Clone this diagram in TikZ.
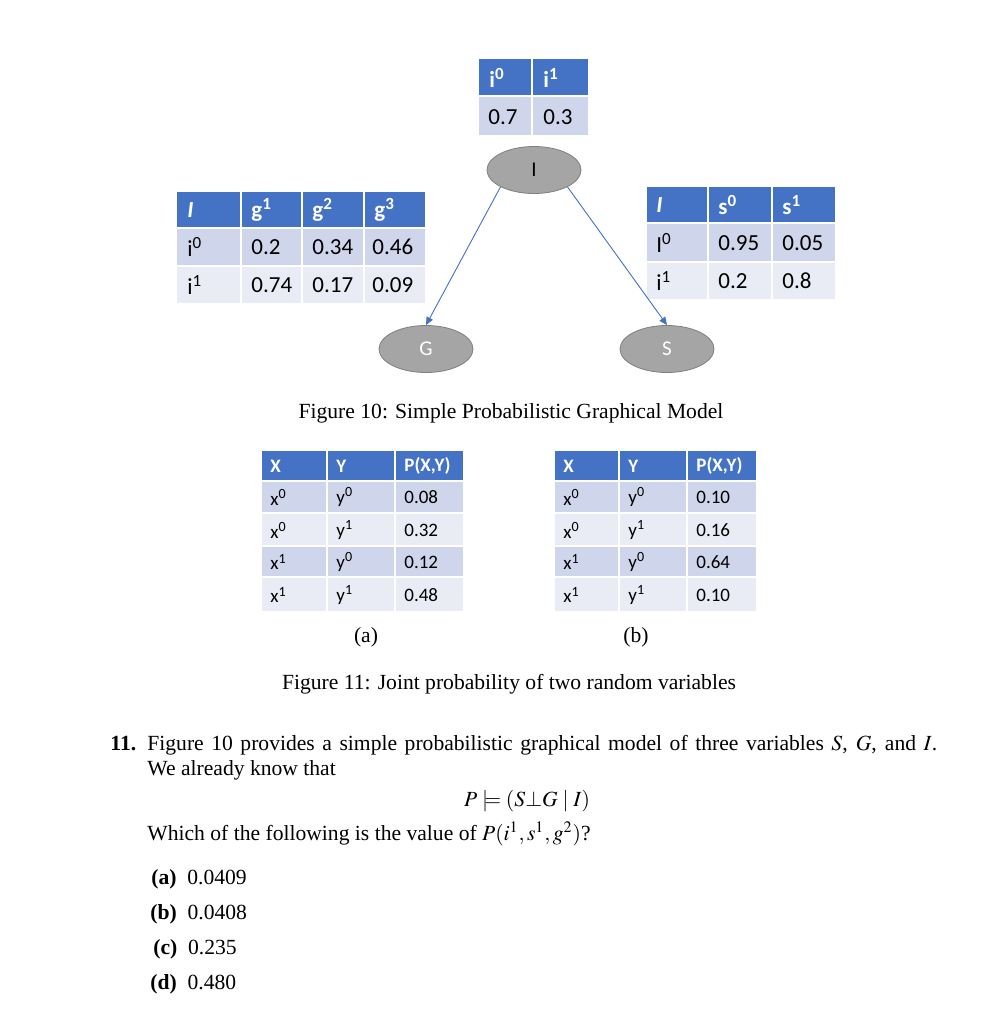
\documentclass[tikz,border=0pt]{standalone}
\usepackage{mathptmx}
\usepackage{fontspec}
\setmainfont{Liberation Serif}
\newfontfamily\tabfont{Carlito}
\usetikzlibrary{shapes.geometric,arrows.meta}
\definecolor{hdrblue}{HTML}{4472C4}
\definecolor{rowdark}{HTML}{CFD5EA}
\definecolor{rowlight}{HTML}{E9EBF5}
\definecolor{nodegray}{HTML}{A5A5A5}
\definecolor{nodeedge}{HTML}{7F7F7F}
\tikzset{
  bign/.style={font=\tabfont\fontsize{11.5}{13}\selectfont, anchor=west, inner sep=0pt},
  bighd/.style={bign, text=white, font=\tabfont\bfseries\fontsize{11.5}{13}\selectfont},
  smalln/.style={font=\tabfont\fontsize{9.5}{11}\selectfont, anchor=west, inner sep=0pt},
  smallhd/.style={smalln, text=white, font=\tabfont\bfseries\fontsize{9.5}{11}\selectfont},
  bnode/.style={ellipse, fill=nodegray, draw=nodeedge, line width=0.4pt,
    minimum width=47pt, minimum height=23.5pt, font=\tabfont\fontsize{10.5}{12}\selectfont},
  edge/.style={hdrblue, line width=0.45pt, -{Triangle[length=4pt,width=3.5pt]}},
  body/.style={font=\fontsize{10.8}{13}\selectfont, inner sep=0pt},
  txt/.style={body, anchor=base west},
  ctr/.style={body, anchor=base},
}
\begin{document}
\begin{tikzpicture}[x=0.5pt, y=-0.5pt]
  \useasboundingbox[fill=white] (0,0) rectangle (988,1024);
  % 表 I
  \foreach \xa/\xb in {479/531, 533/588} {
    \fill[hdrblue] (\xa,59) rectangle (\xb,95);
    \fill[rowdark] (\xa,97) rectangle (\xb,135);
  }
  \node[bighd] (ih0) at (489,78) {i\textsuperscript{0}};
  \node[bighd] (ih1) at (543,78) {i\textsuperscript{1}};
  \node[bign] (iv0) at (488,117) {0.7};
  \node[bign] (iv1) at (543,117) {0.3};
  % 表 G
  \foreach \xa/\xb in {177/240, 242/301, 303/363, 365/425} {
    \fill[hdrblue] (\xa,192) rectangle (\xb,227);
    \fill[rowdark] (\xa,229) rectangle (\xb,265);
    \fill[rowlight] (\xa,267) rectangle (\xb,303);
  }
  \node[bighd] (gh0) at (187,210) {\textit{I}};
  \node[bighd] (gh1) at (251,210) {g\textsuperscript{1}};
  \node[bighd] (gh2) at (312,210) {g\textsuperscript{2}};
  \node[bighd] (gh3) at (374,210) {g\textsuperscript{3}};
  \node[bign] (ga0) at (187,247) {i\textsuperscript{0}};
  \node[bign] (ga1) at (251,247) {0.2};
  \node[bign] (ga2) at (312,247) {0.34};
  \node[bign] (ga3) at (372,247) {0.46};
  \node[bign] (gb0) at (187,285) {i\textsuperscript{1}};
  \node[bign] (gb1) at (251,285) {0.74};
  \node[bign] (gb2) at (312,285) {0.17};
  \node[bign] (gb3) at (372,285) {0.09};
  % 表 S
  \foreach \xa/\xb in {647/707, 709/771, 773/835} {
    \fill[hdrblue] (\xa,187) rectangle (\xb,222);
    \fill[rowdark] (\xa,224) rectangle (\xb,261);
    \fill[rowlight] (\xa,263) rectangle (\xb,299);
  }
  \node[bighd] (sh0) at (656,205) {\textit{I}};
  \node[bighd] (sh1) at (718,205) {s\textsuperscript{0}};
  \node[bighd] (sh2) at (782,205) {s\textsuperscript{1}};
  \node[bign] (sa0) at (656,243) {I\textsuperscript{0}};
  \node[bign] (sa1) at (718,243) {0.95};
  \node[bign] (sa2) at (782,243) {0.05};
  \node[bign] (sb0) at (656,281) {i\textsuperscript{1}};
  \node[bign] (sb1) at (718,281) {0.2};
  \node[bign] (sb2) at (782,281) {0.8};
  % 节点与边
  \node[bnode] (I) at (534,170) {I};
  \node[bnode, text=white] (G) at (426,349) {G};
  \node[bnode, text=white] (S) at (667,349) {S};
  \draw[edge] (I.south west) -- (G.north);
  \draw[edge] (I.south east) -- (S.north);
  \node[ctr] (cap10) at (511,418) {Figure 10: Simple Probabilistic Graphical Model};
  % 表 (a), (b)
  \foreach \xa/\xb in {262/326, 328/394, 396/463, 555/618, 620/686, 688/756} {
    \fill[hdrblue] (\xa,451) rectangle (\xb,480);
    \fill[rowdark] (\xa,482) rectangle (\xb,512);
    \fill[rowlight] (\xa,514) rectangle (\xb,545);
    \fill[rowdark] (\xa,547) rectangle (\xb,576);
    \fill[rowlight] (\xa,578) rectangle (\xb,611);
  }
  \node[smallhd] (ah0) at (270,466) {X};
  \node[smallhd] (ah1) at (336,466) {Y};
  \node[smallhd] (ah2) at (404,466) {P(X,Y)};
  \node[smalln] (a10) at (270,497) {x\textsuperscript{0}};
  \node[smalln] (a11) at (336,497) {y\textsuperscript{0}};
  \node[smalln] (a12) at (404,497) {0.08};
  \node[smalln] (a20) at (270,530) {x\textsuperscript{0}};
  \node[smalln] (a21) at (336,530) {y\textsuperscript{1}};
  \node[smalln] (a22) at (404,530) {0.32};
  \node[smalln] (a30) at (270,562) {x\textsuperscript{1}};
  \node[smalln] (a31) at (336,562) {y\textsuperscript{0}};
  \node[smalln] (a32) at (404,562) {0.12};
  \node[smalln] (a40) at (270,595) {x\textsuperscript{1}};
  \node[smalln] (a41) at (336,595) {y\textsuperscript{1}};
  \node[smalln] (a42) at (404,595) {0.48};
  \node[smallhd] (bh0) at (563,466) {X};
  \node[smallhd] (bh1) at (628,466) {Y};
  \node[smallhd] (bh2) at (696,466) {P(X,Y)};
  \node[smalln] (b10) at (563,497) {x\textsuperscript{0}};
  \node[smalln] (b11) at (628,497) {y\textsuperscript{0}};
  \node[smalln] (b12) at (696,497) {0.10};
  \node[smalln] (b20) at (563,530) {x\textsuperscript{0}};
  \node[smalln] (b21) at (628,530) {y\textsuperscript{1}};
  \node[smalln] (b22) at (696,530) {0.16};
  \node[smalln] (b30) at (563,562) {x\textsuperscript{1}};
  \node[smalln] (b31) at (628,562) {y\textsuperscript{0}};
  \node[smalln] (b32) at (696,562) {0.64};
  \node[smalln] (b40) at (563,595) {x\textsuperscript{1}};
  \node[smalln] (b41) at (628,595) {y\textsuperscript{1}};
  \node[smalln] (b42) at (696,595) {0.10};
  \node[ctr] (suba) at (366,642) {(a)};
  \node[ctr] (subb) at (636,642) {(b)};
  \node[ctr] (cap11) at (509,689) {Figure 11: Joint probability of two random variables};
  % 题目
  \node[txt] (qnum) at (110,750) {\textbf{11.}};
  \node[txt] (q1) at (147,750) {\hbox to 395pt{Figure 10 provides a simple probabilistic graphical model of three variables $S$, $G$, and $I$.}};
  \node[txt] (q2) at (147,775) {We already know that};
  \node[ctr] (qm) at (527,806) {$P \models (S{\perp}G \mid I)$};
  \node[txt] (q3) at (147,840) {Which of the following is the value of $P(i^1, s^1, g^2)$?};
  \node[txt] (oa) at (151,884) {\textbf{(a)}\ \ 0.0409};
  \node[txt] (ob) at (150,919) {\textbf{(b)}\ \ 0.0408};
  \node[txt] (oc) at (153,954) {\textbf{(c)}\ \ 0.235};
  \node[txt] (od) at (150,989) {\textbf{(d)}\ \ 0.480};
\end{tikzpicture}
\end{document}
